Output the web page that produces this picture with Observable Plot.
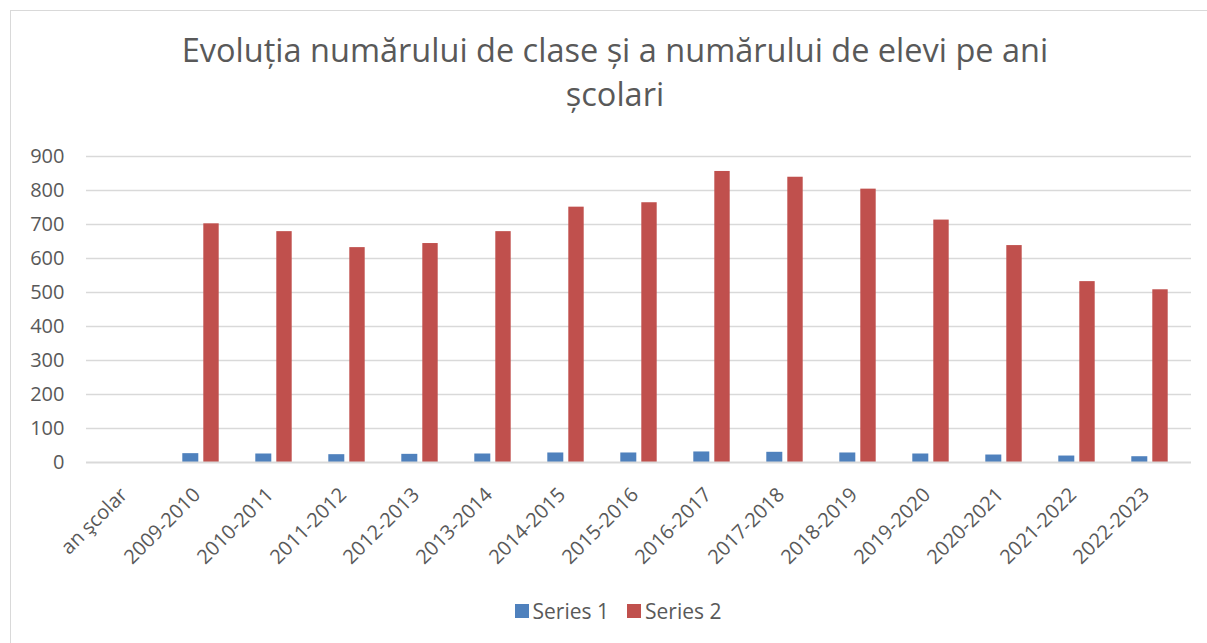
<!DOCTYPE html>
<html>
<head>
<meta charset="utf-8">
<script src="https://cdn.jsdelivr.net/npm/d3@7"></script>
<script src="https://cdn.jsdelivr.net/npm/@observablehq/plot@0.6"></script>
<style>
  html, body { margin: 0; padding: 0; background: #fff; overflow: hidden; }
  #page { position: relative; width: 1207px; height: 643px; font-family: "Open Sans", sans-serif; color: #595959; }
  #frame { position: absolute; left: 10px; top: 10px; width: 1210px; height: 650px; border: 1px solid #d9d9d9; box-sizing: border-box; }
  .tline { position: absolute; left: 0; width: 1230px; text-align: center; font-size: 32.5px; line-height: 44px; height: 44px; white-space: nowrap; }
  #t1 { top: 28px; }
  #t2 { top: 72px; }
  #chart { position: absolute; left: 0; top: 140px; }
  #legend { position: absolute; left: 0; top: 595px; width: 1236px; text-align: center; font-size: 21px; line-height: 30px; }
  .item { display: inline-flex; align-items: center; margin: 0 9px; }
  .sw { display: inline-block; width: 14px; height: 14px; margin-right: 4px; }
</style>
</head>
<body>
<div id="page">
  <div id="frame"></div>
  <div class="tline" id="t1">Evoluția numărului de clase și a numărului de elevi pe ani</div>
  <div class="tline" id="t2">școlari</div>
  <div id="chart"></div>
  <div id="legend"></div>
</div>
<script>
const categories = ["an şcolar", "2009-2010", "2010-2011", "2011-2012", "2012-2013", "2013-2014", "2014-2015", "2015-2016", "2016-2017", "2017-2018", "2018-2019", "2019-2020", "2020-2021", "2021-2022", "2022-2023"];
const series1Years = ["2009-2010", "2010-2011", "2011-2012", "2012-2013", "2013-2014", "2014-2015", "2015-2016", "2016-2017", "2017-2018", "2018-2019", "2019-2020", "2020-2021", "2021-2022", "2022-2023"];
const series1 = [26, 25, 23, 24, 25, 28, 28, 31, 30, 28, 25, 22, 19, 17];
const series2 = [702, 679, 632, 644, 679, 751, 764, 856, 839, 804, 713, 638, 532, 508];
const seriesNames = ["Series 1", "Series 2"];
const seriesColors = ["#4F81BD", "#C0504D"];
const yTicks = [0, 100, 200, 300, 400, 500, 600, 700, 800, 900];

const d1 = series1Years.map((c, i) => ({cat: c, value: series1[i]}));
const d2 = series1Years.map((c, i) => ({cat: c, value: series2[i]}));

const plot = Plot.plot({
  width: 1207,
  height: 440,
  marginTop: 16,
  marginBottom: 118,
  marginLeft: 86,
  marginRight: 16,
  style: {fontFamily: "Open Sans, sans-serif", fontSize: "20px", color: "#595959", background: "transparent"},
  x: {type: "band", domain: categories, padding: 0, label: null},
  y: {domain: [0, 900], ticks: yTicks, label: null},
  marks: [
    Plot.gridY(yTicks.slice(1), {stroke: "#d9d9d9", strokeOpacity: 1, strokeWidth: 1.3}),
    Plot.axisY({ticks: yTicks, tickSize: 0, tickPadding: 22, label: null, fontSize: 20, tickFormat: d => String(d)}),
    Plot.axisX({tickSize: 0, tickPadding: 29, dx: -4, tickRotate: -45, label: null, fontSize: 20}),
    Plot.barY(d1, {x: "cat", y: "value", fill: seriesColors[0], insetLeft: 18.3, insetRight: 38.7}),
    Plot.barY(d2, {x: "cat", y: "value", fill: seriesColors[1], insetLeft: 39.3, insetRight: 18.3}),
    Plot.ruleY([0], {stroke: "#d9d9d9", strokeWidth: 2})
  ]
});
document.getElementById("chart").appendChild(plot);

const legend = document.getElementById("legend");
seriesNames.forEach((n, i) => {
  const it = document.createElement("span");
  it.className = "item";
  const sw = document.createElement("span");
  sw.className = "sw";
  sw.style.background = seriesColors[i];
  it.appendChild(sw);
  it.appendChild(document.createTextNode(n));
  legend.appendChild(it);
});
</script>
</body>
</html>
